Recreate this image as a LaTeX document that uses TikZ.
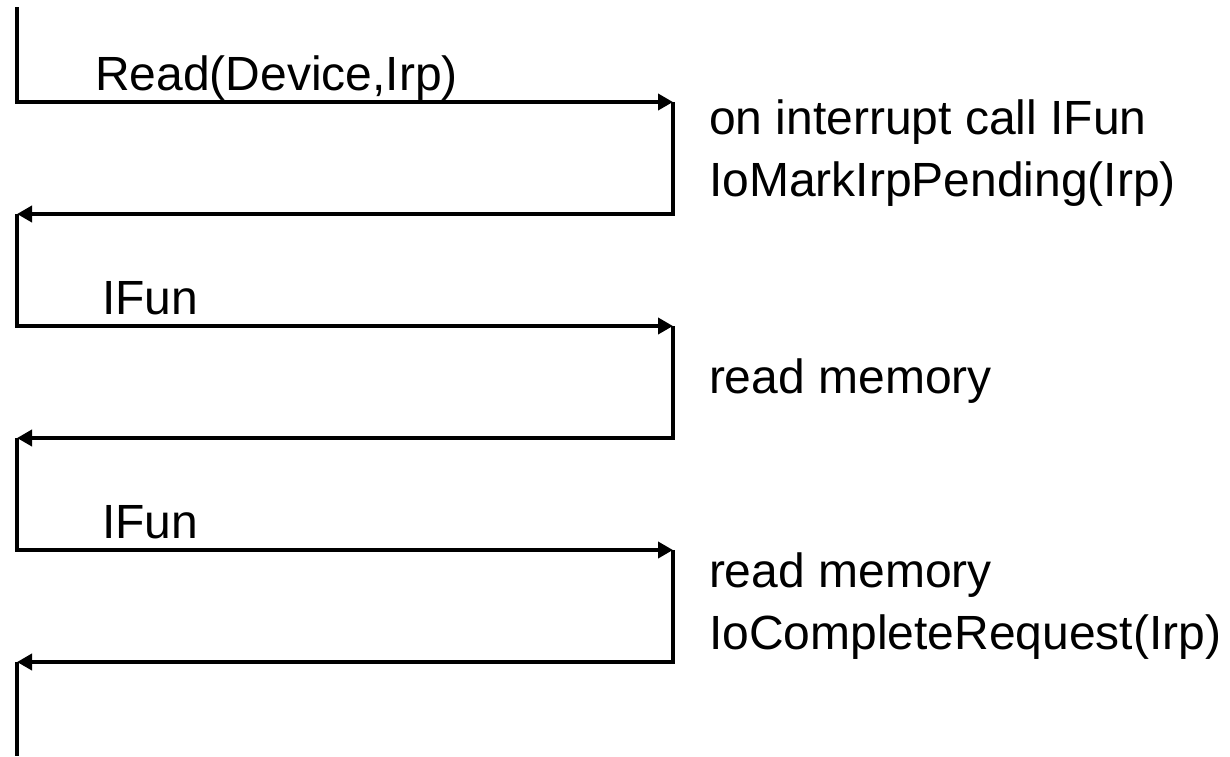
\documentclass[tikz,border=0pt]{standalone}
\usepackage{fontspec}
\setmainfont{Liberation Sans}
\usetikzlibrary{arrows.meta}

\tikzset{
  flow/.style={line width=4pt, black},
  msg/.style={flow, -{Triangle[length=15pt,width=16pt]}},
  lbl/.style={anchor=base west, inner sep=0pt, outer sep=0pt, align=left,
              font=\fontsize{48}{62}\selectfont}
}

\begin{document}
\begin{tikzpicture}[x=1pt, y=-1pt]
  \useasboundingbox (0,0) rectangle (1230,756);

  % turning points on the caller (left) and driver (right) sides
  \coordinate (L0) at (17,7);
  \coordinate (R1) at (673,102);
  \coordinate (L2) at (17,214);
  \coordinate (R3) at (673,326);
  \coordinate (L4) at (17,438);
  \coordinate (R5) at (673,550);
  \coordinate (L6) at (17,662);
  \coordinate (Lend) at (17,756);

  % call / return zig-zag
  \draw[msg] (L0) |- (R1);
  \draw[msg] (R1) |- (L2);
  \draw[msg] (L2) |- (R3);
  \draw[msg] (R3) |- (L4);
  \draw[msg] (L4) |- (R5);
  \draw[msg] (R5) |- (L6);
  \draw[flow] (L6) -- (Lend);

  % messages on the calls
  \node[lbl] (read) at (95,90) {Read(Device,Irp)};
  \node[lbl] (ifun1) at (102,314) {IFun};
  \node[lbl] (ifun2) at (102,538) {IFun};

  % driver actions (anchored on the baseline of their last line)
  \node[lbl] (act1) at (709,196) {on interrupt call IFun\\IoMarkIrpPending(Irp)};
  \node[lbl] (act2) at (709,393) {read memory};
  \node[lbl] (act3) at (709,649) {read memory\\IoCompleteRequest(Irp)};
\end{tikzpicture}
\end{document}
